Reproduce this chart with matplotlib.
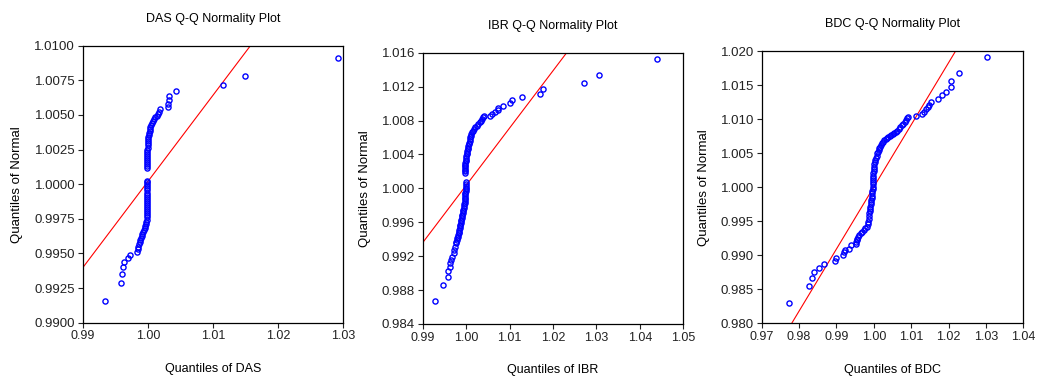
import matplotlib
matplotlib.use("Agg")
import matplotlib.pyplot as plt
from matplotlib.ticker import FormatStrFormatter

plt.rcParams.update({
    "font.family": ["Liberation Sans", "DejaVu Sans"],
    "font.size": 9,
})

BLUE, RED = "#0000ff", "#ff0000"

# ---- DAS: (sample quantile, normal quantile) pairs
das_points = [
    (0.99347, 0.99159), (0.99588, 0.99287), (0.99603, 0.99354), (0.99614, 0.99400),
    (0.99639, 0.99436), (0.99700, 0.99467), (0.99731, 0.99491), (0.99838, 0.99513),
    (0.99845, 0.99530), (0.99854, 0.99549), (0.99862, 0.99565), (0.99872, 0.99580),
    (0.99882, 0.99595), (0.99892, 0.99610), (0.99903, 0.99625), (0.99915, 0.99640),
    (0.99930, 0.99655), (0.99945, 0.99670), (0.99955, 0.99685), (0.99963, 0.99700),
    (0.99970, 0.99715), (0.99976, 0.99730), (0.99981, 0.99745), (0.99985, 0.99760),
    (0.99988, 0.99775), (0.99990, 0.99790), (0.99991, 0.99805), (0.99991, 0.99820),
    (0.99992, 0.99835), (0.99992, 0.99850), (0.99992, 0.99865), (0.99992, 0.99880),
    (0.99992, 0.99895), (0.99992, 0.99910), (0.99992, 0.99925), (0.99992, 0.99940),
    (0.99992, 0.99955), (0.99993, 0.99970), (0.99993, 0.99985), (0.99993, 1.00000),
    (0.99993, 1.00015), (0.99993, 1.00025),
    (0.99992, 1.00119), (0.99992, 1.00130), (0.99992, 1.00145), (0.99992, 1.00160),
    (0.99993, 1.00175), (0.99993, 1.00190), (0.99993, 1.00205), (0.99993, 1.00220),
    (0.99994, 1.00235), (0.99994, 1.00250), (0.99995, 1.00265), (0.99995, 1.00280),
    (0.99996, 1.00295), (0.99998, 1.00310), (1.00002, 1.00325), (1.00006, 1.00340),
    (1.00011, 1.00355), (1.00018, 1.00370), (1.00025, 1.00385), (1.00032, 1.00400),
    (1.00040, 1.00415), (1.00050, 1.00430), (1.00062, 1.00445), (1.00080, 1.00460),
    (1.00095, 1.00472), (1.00115, 1.00484), (1.00135, 1.00495), (1.00156, 1.00507),
    (1.00176, 1.00523), (1.00191, 1.00540), (1.00305, 1.00555), (1.00314, 1.00579),
    (1.00320, 1.00606), (1.00325, 1.00637), (1.00427, 1.00673), (1.01149, 1.00715),
    (1.01491, 1.00783), (1.02923, 1.00913),
]

# ---- IBR
ibr_points = [
    (0.99276, 0.98667), (0.99460, 0.98856), (0.99575, 0.98954), (0.99583, 0.99021),
    (0.99622, 0.99076), (0.99630, 0.99115), (0.99660, 0.99159), (0.99683, 0.99194),
    (0.99714, 0.99233), (0.99721, 0.99273), (0.99744, 0.99312), (0.99760, 0.99351),
    (0.99775, 0.99370), (0.99785, 0.99390), (0.99795, 0.99410), (0.99805, 0.99430),
    (0.99815, 0.99450), (0.99828, 0.99470), (0.99836, 0.99490), (0.99844, 0.99510),
    (0.99852, 0.99530), (0.99860, 0.99550), (0.99868, 0.99570), (0.99875, 0.99590),
    (0.99883, 0.99610), (0.99890, 0.99630), (0.99898, 0.99650), (0.99906, 0.99670),
    (0.99914, 0.99690), (0.99921, 0.99710), (0.99929, 0.99730), (0.99937, 0.99750),
    (0.99945, 0.99770), (0.99952, 0.99790), (0.99958, 0.99810), (0.99964, 0.99830),
    (0.99970, 0.99850), (0.99975, 0.99870), (0.99978, 0.99890), (0.99980, 0.99910),
    (0.99982, 0.99930), (0.99984, 0.99950), (0.99986, 0.99970), (0.99987, 0.99990),
    (0.99988, 1.00010), (0.99989, 1.00030), (0.99990, 1.00050), (0.99990, 1.00070),
    (0.99978, 1.00180), (0.99978, 1.00200), (0.99979, 1.00220), (0.99980, 1.00240),
    (0.99981, 1.00260), (0.99982, 1.00280), (0.99984, 1.00300), (0.99986, 1.00320),
    (0.99990, 1.00340), (0.99995, 1.00360), (1.00002, 1.00380), (1.00010, 1.00400),
    (1.00020, 1.00420), (1.00028, 1.00440), (1.00036, 1.00460), (1.00044, 1.00480),
    (1.00052, 1.00500), (1.00060, 1.00520), (1.00068, 1.00540), (1.00078, 1.00560),
    (1.00088, 1.00580), (1.00098, 1.00600), (1.00108, 1.00620), (1.00120, 1.00640),
    (1.00135, 1.00660), (1.00155, 1.00680), (1.00180, 1.00700), (1.00210, 1.00720),
    (1.00245, 1.00740), (1.00280, 1.00760), (1.00312, 1.00780), (1.00342, 1.00800),
    (1.00372, 1.00820), (1.00400, 1.00838), (1.00415, 1.00848),
    (1.00542, 1.00857), (1.00596, 1.00873), (1.00673, 1.00896), (1.00726, 1.00924),
    (1.00730, 1.00950), (1.00857, 1.00971), (1.01003, 1.01002), (1.01064, 1.01038),
    (1.01279, 1.01073), (1.01709, 1.01117), (1.01762, 1.01172), (1.02721, 1.01238),
    (1.03059, 1.01337), (1.04394, 1.01525),
]

# ---- BDC
bdc_points = [
    (0.97722, 0.98304), (0.98257, 0.98543), (0.98347, 0.98671), (0.98391, 0.98749),
    (0.98525, 0.98818), (0.98659, 0.98876), (0.98953, 0.98920), (0.98980, 0.98965),
    (0.99176, 0.98999), (0.99203, 0.99043), (0.99238, 0.99072), (0.99345, 0.99097),
    (0.99399, 0.99146), (0.99524, 0.99165), (0.99530, 0.99195),
    (0.99541, 0.99224), (0.99560, 0.99245), (0.99586, 0.99273), (0.99615, 0.99298),
    (0.99648, 0.99322), (0.99690, 0.99345), (0.99738, 0.99371), (0.99775, 0.99395),
    (0.99809, 0.99420), (0.99832, 0.99455), (0.99854, 0.99493), (0.99865, 0.99535),
    (0.99873, 0.99575), (0.99880, 0.99616), (0.99887, 0.99650), (0.99894, 0.99682),
    (0.99907, 0.99714), (0.99915, 0.99746), (0.99925, 0.99779), (0.99934, 0.99811),
    (0.99943, 0.99843), (0.99952, 0.99876), (0.99961, 0.99909), (0.99964, 0.99942),
    (0.99967, 0.99975), (0.99970, 1.00007), (0.99973, 1.00040), (0.99976, 1.00072),
    (0.99978, 1.00105), (0.99981, 1.00138), (0.99984, 1.00170), (0.99987, 1.00203),
    (0.99993, 1.00236), (0.99999, 1.00268), (1.00005, 1.00301), (1.00015, 1.00334),
    (1.00028, 1.00366), (1.00041, 1.00399), (1.00058, 1.00432), (1.00076, 1.00464),
    (1.00094, 1.00497), (1.00115, 1.00522), (1.00133, 1.00546), (1.00150, 1.00570),
    (1.00170, 1.00595), (1.00190, 1.00620), (1.00210, 1.00644), (1.00245, 1.00668),
    (1.00282, 1.00693), (1.00320, 1.00710), (1.00355, 1.00727), (1.00389, 1.00742),
    (1.00430, 1.00753), (1.00470, 1.00765), (1.00505, 1.00776), (1.00545, 1.00793),
    (1.00585, 1.00810), (1.00625, 1.00830), (1.00665, 1.00849), (1.00710, 1.00878),
    (1.00754, 1.00908), (1.00794, 1.00935), (1.00834, 1.00962), (1.00865, 1.00985),
    (1.00897, 1.01011), (1.00910, 1.01025),
    (1.01129, 1.01045), (1.01298, 1.01075), (1.01352, 1.01099), (1.01396, 1.01148),
    (1.01441, 1.01173), (1.01485, 1.01202), (1.01539, 1.01256), (1.01708, 1.01295),
    (1.01815, 1.01349), (1.01922, 1.01403), (1.02065, 1.01466), (1.02065, 1.01554),
    (1.02270, 1.01677), (1.03019, 1.01917),
]

names = ["DAS", "IBR", "BDC"]
points = [das_points, ibr_points, bdc_points]
# reference line: value at x = 1.0 and slope
line_at_one = [1.00020, 1.00035, 1.00003]
line_slope = [0.623, 0.676, 0.912]
x_ticks = [[0.99, 1.00, 1.01, 1.02, 1.03],
           [0.99, 1.00, 1.01, 1.02, 1.03, 1.04, 1.05],
           [0.97, 0.98, 0.99, 1.00, 1.01, 1.02, 1.03, 1.04]]
y_ticks = [[0.9900, 0.9925, 0.9950, 0.9975, 1.0000, 1.0025, 1.0050, 1.0075, 1.0100],
           [0.984, 0.988, 0.992, 0.996, 1.000, 1.004, 1.008, 1.012, 1.016],
           [0.980, 0.985, 0.990, 0.995, 1.000, 1.005, 1.010, 1.015, 1.020]]
y_fmt = ["%.4f", "%.3f", "%.3f"]

boxes = [(0.0797, 0.1440, 0.2511, 0.7347),
         (0.4072, 0.1406, 0.2511, 0.7196),
         (0.7338, 0.1424, 0.2520, 0.7223)]

fig = plt.figure(figsize=(10.38, 3.77), dpi=100)
for i, name in enumerate(names):
    ax = fig.add_axes(boxes[i])
    xs = [p[0] for p in points[i]]
    ys = [p[1] for p in points[i]]
    ax.plot(xs, ys, ls="none", marker="o", ms=3.7, mfc="none", mec=BLUE, mew=1.0, zorder=3)
    ax.axline((1.0, line_at_one[i]), slope=line_slope[i], color=RED, lw=0.8, zorder=2)
    ax.set_xlim(x_ticks[i][0], x_ticks[i][-1])
    ax.set_ylim(y_ticks[i][0], y_ticks[i][-1])
    ax.set_xticks(x_ticks[i])
    ax.set_yticks(y_ticks[i])
    ax.xaxis.set_major_formatter(FormatStrFormatter("%.2f"))
    ax.yaxis.set_major_formatter(FormatStrFormatter(y_fmt[i]))
    ax.tick_params(direction="out", length=3.5, width=0.8, labelsize=9.5, pad=2,
                   colors="#222222")
    ax.tick_params(axis="x", labelsize=9)
    for s in ax.spines.values():
        s.set_linewidth(0.9)
    ax.set_xlabel(f"Quantiles of {name}", fontsize=9, labelpad=15)
    ax.set_ylabel("Quantiles of Normal", fontsize=9.5, labelpad=8)
    ax.set_title(f"{name} Q-Q Normality Plot", fontsize=9, pad=17)

fig.savefig("out.png", dpi=100, facecolor="white")
